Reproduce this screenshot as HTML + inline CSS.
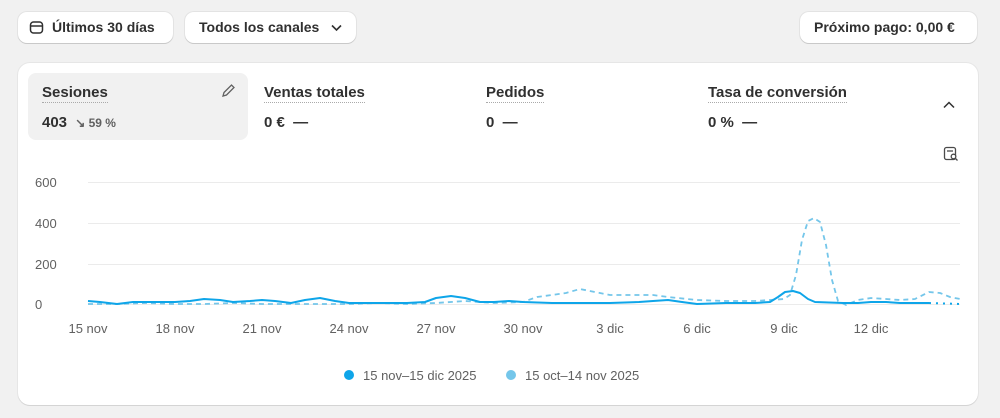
<!DOCTYPE html>
<html><head><meta charset="utf-8"><style>
body{margin:0;width:1000px;height:418px;background:#f1f1f1;font-family:"Liberation Sans",sans-serif;color:#303030;position:relative;overflow:hidden}
.btn{position:absolute;top:12px;height:31px;background:#fff;border-radius:9px;box-shadow:0 1px 0 #c9c9c9,0 0 0 1px #e3e3e3;font-size:14px;font-weight:600;line-height:31px;box-sizing:border-box}
.card{position:absolute;left:18px;top:63px;width:960px;height:342px;background:#fff;border-radius:12px;box-shadow:0 1px 0 #d4d4d4,0 0 0 1px #e6e6e6}
.m{position:absolute;top:21px;font-size:15px;font-weight:700}
.m .t{display:inline-block;border-bottom:1px dotted #aaa;padding-bottom:1px}
.m .v{margin-top:11px;font-size:15px}
.ax{font-size:13px;fill:#616161}
</style></head><body>
<div class="btn" style="left:18px;width:155px;padding-left:34px">Últimos 30 días
<svg style="position:absolute;left:11px;top:8px" width="15" height="15" viewBox="0 0 15 15"><rect x="1.5" y="2" width="12" height="11" rx="3" fill="none" stroke="#303030" stroke-width="1.5"/><line x1="1.5" y1="6" x2="13.5" y2="6" stroke="#303030" stroke-width="1.5"/></svg></div>
<div class="btn" style="left:185px;width:171px;padding-left:14px">Todos los canales
<svg style="position:absolute;left:146px;top:12px" width="11" height="8"><path d="M1 1.5 L5.5 6 L10 1.5" fill="none" stroke="#303030" stroke-width="1.6"/></svg></div>
<div class="btn" style="left:800px;width:177px;padding-left:14px">Próximo pago: 0,00 €</div>
<div class="card">
<div style="position:absolute;left:10px;top:10px;width:220px;height:67px;background:#f1f1f1;border-radius:8px"></div>
<svg style="position:absolute;left:202px;top:20px" width="16" height="16"><path d="M3 13 L4 9.5 L11.5 2 L14 4.5 L6.5 12 Z" fill="none" stroke="#616161" stroke-width="1.3"/></svg>
<div class="m" style="left:24px"><div class="t">Sesiones</div><div class="v">403 <span style="font-size:12px;color:#616161;margin-left:4px">↘ 59 %</span></div></div>
<div class="m" style="left:246px"><div class="t">Ventas totales</div><div class="v">0 € &nbsp;—</div></div>
<div class="m" style="left:468px"><div class="t">Pedidos</div><div class="v">0 &nbsp;—</div></div>
<div class="m" style="left:690px"><div class="t">Tasa de conversión</div><div class="v">0 % &nbsp;—</div></div>
<svg style="position:absolute;left:925px;top:38px" width="12" height="8"><path d="M1 6.5 L6 1.5 L11 6.5" fill="none" stroke="#303030" stroke-width="1.5"/></svg>
<svg style="position:absolute;left:925px;top:83px" width="16" height="16"><rect x="1.5" y="1.5" width="11" height="12" rx="2" fill="none" stroke="#4a4a4a" stroke-width="1.3"/><line x1="4" y1="5" x2="10" y2="5" stroke="#4a4a4a" stroke-width="1.3"/><circle cx="10.5" cy="10.5" r="2.3" fill="#fff" stroke="#4a4a4a" stroke-width="1.3"/><line x1="12" y1="12" x2="14.5" y2="14.5" stroke="#4a4a4a" stroke-width="1.3"/></svg>
</div>
<svg style="position:absolute;left:0;top:0" width="1000" height="418">
<g stroke="#ebebeb" stroke-width="1"><line x1="88" y1="182.5" x2="960" y2="182.5"/><line x1="88" y1="223.5" x2="960" y2="223.5"/><line x1="88" y1="264.5" x2="960" y2="264.5"/><line x1="88" y1="304.5" x2="960" y2="304.5"/></g>
<g class="ax" text-anchor="start"><text x="35" y="187">600</text><text x="35" y="228">400</text><text x="35" y="269">200</text><text x="35" y="309">0</text></g>
<g class="ax" text-anchor="middle"><text x="88" y="333">15 nov</text><text x="175" y="333">18 nov</text><text x="262" y="333">21 nov</text><text x="349" y="333">24 nov</text><text x="436" y="333">27 nov</text><text x="523" y="333">30 nov</text><text x="610" y="333">3 dic</text><text x="697" y="333">6 dic</text><text x="784" y="333">9 dic</text><text x="871" y="333">12 dic</text></g>
<polyline fill="none" stroke="#74c6ea" stroke-width="1.8" stroke-dasharray="5,4" stroke-linejoin="round" points="88,304 117,304 146,303 175,304 204,304 233,303 262,304 291,304 320,304 349,304 378,303 407,304 436,303 465,301 494,303 523,302 537,297 552,295 566,293 580,289 595,292 610,295 624,295 639,295 653,295 668,297 697,300 726,301 755,301 770,300 784,299 790,295 796,275 802,240 808,221 814,218 820,222 826,245 832,280 838,301 846,305 858,300 871,298 886,299 900,300 915,299 929,292 940,293 950,297 960,299"/>
<polyline fill="none" stroke="#0ea5e9" stroke-width="2" stroke-linejoin="round" points="88,301 100,302 117,304 133,302 150,302 175,302 190,301 204,299 220,300 233,302 250,301 262,300 275,301 291,303 305,300 320,298 335,301 349,303 378,303 407,303 425,302 436,298 451,296 465,298 480,302 494,302 509,301 523,302 552,303 580,303 610,303 639,302 653,301 668,300 682,302 697,304 726,303 755,303 770,302 778,297 785,292 793,291 800,293 808,299 815,302 843,303 858,303 871,302 886,302 900,303 929,303"/>
<polyline fill="none" stroke="#0ea5e9" stroke-width="2" stroke-dasharray="2,5" points="929,303 960,304"/>
<circle cx="349" cy="375" r="5" fill="#0ea5e9"/><text x="363" y="380" class="ax" style="font-size:13px">15 nov–15 dic 2025</text>
<circle cx="511" cy="375" r="5" fill="#74c6ea"/><text x="525" y="380" class="ax" style="font-size:13px">15 oct–14 nov 2025</text>
</svg>
</body></html>
